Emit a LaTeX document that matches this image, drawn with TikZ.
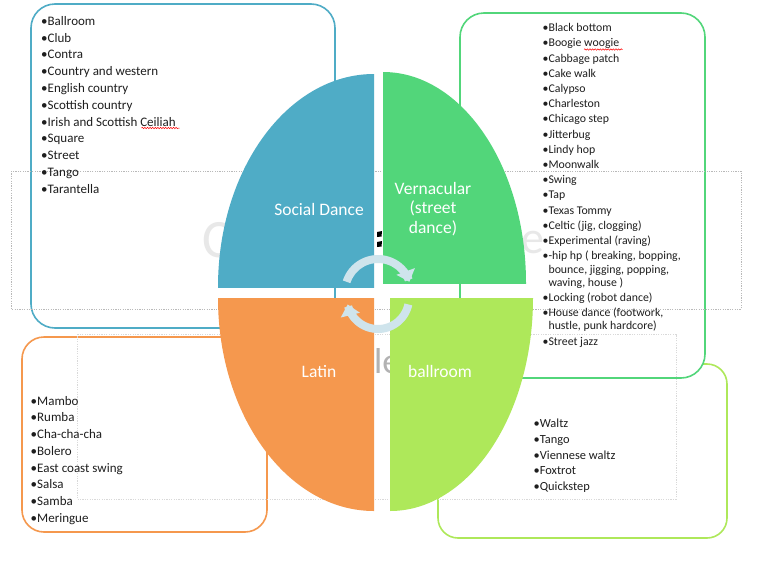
\documentclass[tikz,border=0pt]{standalone}
\usepackage{fontspec}
\setmainfont{Carlito}
\usetikzlibrary{arrows.meta,decorations.pathmorphing}
\definecolor{socialblue}{RGB}{79,172,198}
\definecolor{vernagreen}{RGB}{82,214,122}
\definecolor{latinorange}{RGB}{245,152,78}
\definecolor{ballgreen}{RGB}{174,232,90}
\definecolor{cyclefill}{RGB}{207,228,236}
\definecolor{listtext}{RGB}{30,30,30}

\begin{document}
\begin{tikzpicture}[x=1pt,y=-1pt,
  listbox/.style={draw, line width=1.6pt, fill=white, rounded corners=24pt},
  guide/.style={gray!55, line width=0.5pt, dash pattern=on 1.2pt off 1.2pt},
  items/.style={anchor=north west, inner sep=0pt, align=left, text=listtext},
  quadlabel/.style={text=white, align=center, inner sep=0pt,
                    font={\fontsize{17.5}{19.2}\selectfont}},
  cyclearrow/.style={cyclefill, line width=8pt, -{Triangle[width=19pt,length=11pt]}},
  spell/.style={red, line width=0.5pt, decorate,
                decoration={snake, amplitude=0.7pt, segment length=2.6pt}}]
  \useasboundingbox (0,0) rectangle (768,576);
  \fill[white] (0,0) rectangle (768,576);

  % list boxes
  \draw[listbox, draw=ballgreen, rounded corners=20pt] (438,364) rectangle (727,538);
  \draw[listbox, draw=vernagreen] (460,13) rectangle (705,378);
  \draw[listbox, draw=latinorange, rounded corners=22pt] (22,337) rectangle (267,532);
  \draw[listbox, draw=socialblue] (31,4) rectangle (335,328);

  % placeholder frames and hidden title
  \draw[guide] (11,171) rectangle (741,309);
  \draw[guide, gray!30] (77,334) rectangle (676,499);
  \node (ghostc) [anchor=base west, inner sep=0pt, text=gray!18,
                  font=\fontsize{54}{54}\selectfont] at (202,257.5) {C};
  \node (ghoste) [anchor=base west, inner sep=0pt, text=gray!18,
                  font=\fontsize{46}{46}\selectfont] at (521,253.5) {e};
  \node (ghostle) [anchor=base west, inner sep=0pt, text=gray!60,
                   font=\fontsize{36}{36}\selectfont] at (374,373) {le};
  \fill[black] (377,232) -- (382,231) -- (381.5,236.5) -- (377,237) -- cycle;
  \fill[black] (377,242) -- (382,241) -- (381.5,246.5) -- (377,247) -- cycle;

  % quadrants
  \begin{scope}
    \clip (218,74) rectangle (374,287);
    \fill[socialblue] (374,287) ellipse [x radius=156, y radius=213];
  \end{scope}
  \begin{scope}
    \clip (383,72) rectangle (526,283);
    \fill[vernagreen] (383,283) ellipse [x radius=143, y radius=211];
  \end{scope}
  \begin{scope}
    \clip (218,298) rectangle (374,511);
    \fill[latinorange] (374,298) ellipse [x radius=156, y radius=213];
  \end{scope}
  \begin{scope}
    \clip (390,298) rectangle (533,511);
    \fill[ballgreen] (390,298) ellipse [x radius=143, y radius=213];
  \end{scope}

  % cycle arrows
  \draw[cyclearrow] plot[domain=-162:-18, samples=40] ({378+33*cos(\x)},{292+33*sin(\x)});
  \draw[cyclearrow] plot[domain=12:168, samples=40] ({378+31*cos(\x)},{298+31*sin(\x)});

  % quadrant labels
  \node (social) [quadlabel, anchor=base] at (319,215.7) {Social Dance};
  \node (vernacular) [quadlabel] at (433,209) {Vernacular\\(street\\dance)};
  \node (latin) [quadlabel, anchor=base] at (319,377.7) {Latin};
  \node (ballroom) [quadlabel, anchor=base] at (440,377.7) {ballroom};

  % lists
  \node (socialitems) [items, font={\fontsize{13}{16.8}\selectfont}] at (41,16)
        {•Ballroom\\•Club\\•Contra\\•Country and western\\•English country\\
         •Scottish country\\•Irish and Scottish Ceiliah\\•Square\\•Street\\
         •Tango\\•Tarantella};
  \node (vernacularitems) [items, font={\fontsize{11.8}{13.2}\selectfont}] at (542.5,23.4)
        {•Black bottom\\[2pt]•Boogie woogie \\[2pt]•Cabbage patch\\[2pt]•Cake walk\\[2pt]
         •Calypso\\[2pt]•Charleston\\[2pt]•Chicago step\\[2pt]•Jitterbug\\[2pt]
         •Lindy hop\\[2pt]•Moonwalk\\[2pt]•Swing\\[2pt]•Tap\\[2pt]•Texas Tommy\\[2pt]
         •Celtic (jig, clogging)\\[2pt]•Experimental (raving)\\[2pt]
         •-hip hp ( breaking, bopping,\\\phantom{•}bounce, jigging, popping,\\
         \phantom{•}waving, house )\\[2pt]•Locking (robot dance)\\[2pt]
         •House dance (footwork,\\\phantom{•}hustle, punk hardcore)\\[2pt]
         •Street jazz};
  \node (latinitems) [items, font={\fontsize{13}{16.7}\selectfont}] at (30.5,396)
        {•Mambo\\•Rumba\\•Cha-cha-cha\\•Bolero\\•East coast swing\\•Salsa\\
         •Samba\\•Meringue};
  \node (ballroomitems) [items, font={\fontsize{12.4}{15.85}\selectfont}] at (533.5,418.6)
        {•Waltz\\•Tango\\•Viennese waltz\\•Foxtrot\\•Quickstep};

  % spell-check marks
  \draw[spell] (141.5,128) -- (179.5,128);
  \draw[spell] (584,49.5) -- (622.5,49.5);
\end{tikzpicture}
\end{document}
